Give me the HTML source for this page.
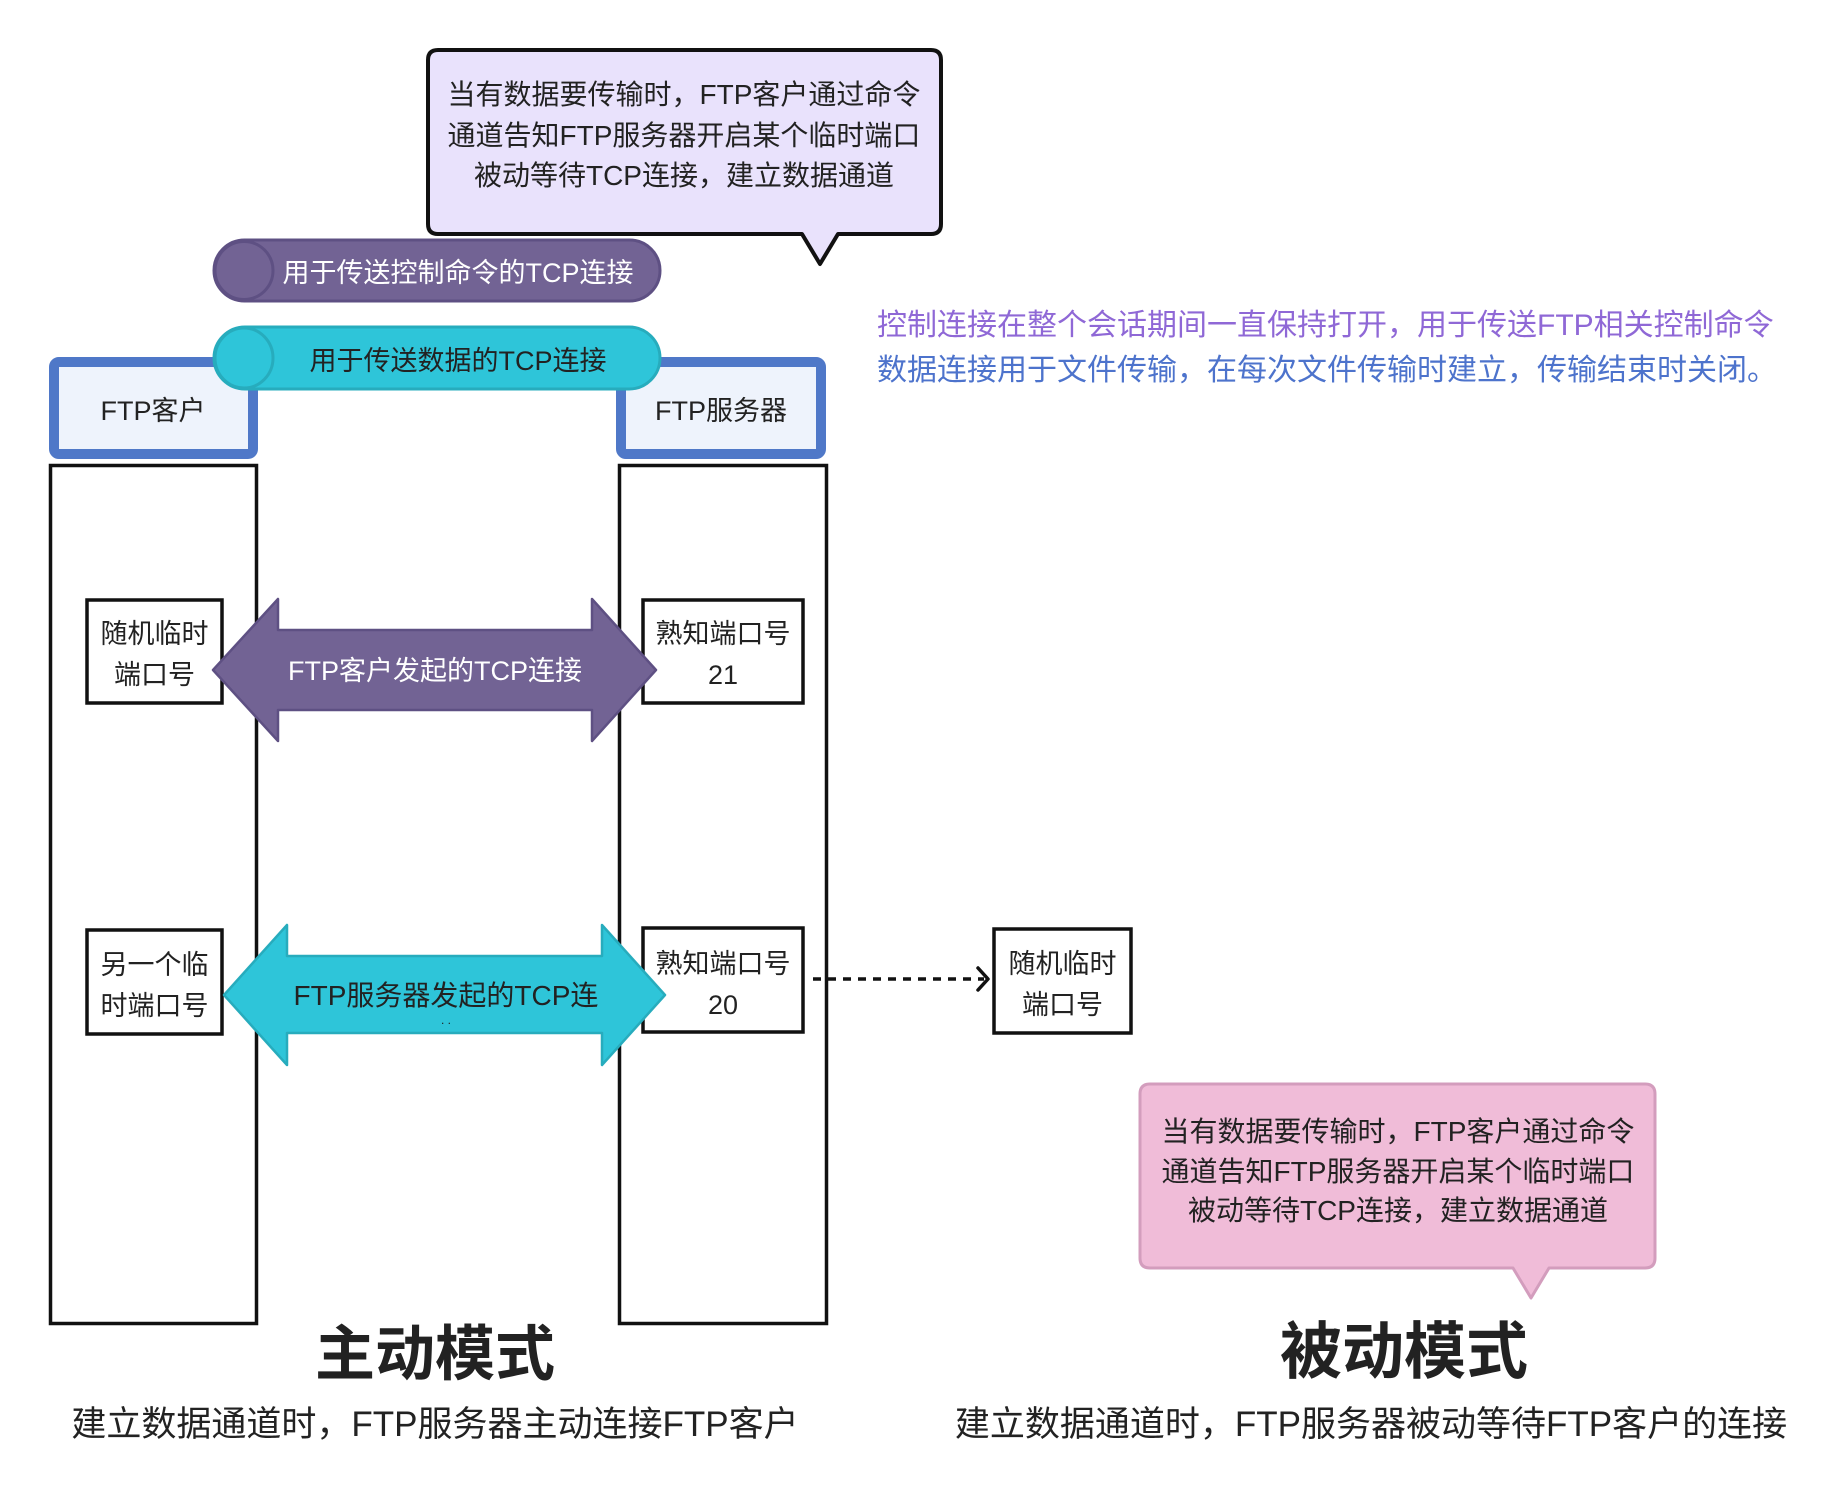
<!DOCTYPE html>
<html><head><meta charset="utf-8"><style>
html,body{margin:0;padding:0;background:#fff;}
svg{display:block;}
text{font-family:"Liberation Sans","Noto Sans CJK SC",sans-serif;}
</style></head><body>
<svg width="1828" height="1492" viewBox="0 0 1828 1492" xmlns="http://www.w3.org/2000/svg">
<rect width="1828" height="1492" fill="#fff"/>

<!-- top callout -->
<path d="M438,50 H931 Q941,50 941,60 V224 Q941,234 931,234 H838 L820,264 L802,234 H438 Q428,234 428,224 V60 Q428,50 438,50 Z" fill="#e9e2fc" stroke="#111" stroke-width="4" stroke-linejoin="round"/>
<g font-size="28" fill="#222" text-anchor="middle">
<text x="684" y="104">当有数据要传输时，FTP客户通过命令</text>
<text x="684" y="145">通道告知FTP服务器开启某个临时端口</text>
<text x="684" y="185">被动等待TCP连接，建立数据通道</text>
</g>

<!-- right explanation -->
<text x="877" y="335" font-size="30" fill="#8f68d6">控制连接在整个会话期间一直保持打开，用于传送FTP相关控制命令</text>
<text x="877" y="380" font-size="30" fill="#4d73cc">数据连接用于文件传输，在每次文件传输时建立，传输结束时关闭。</text>

<!-- purple pill -->
<rect x="214" y="240" width="446" height="61" rx="30.5" fill="#726394" stroke="#5e5083" stroke-width="3"/>
<ellipse cx="244" cy="270.5" rx="29" ry="29" fill="#726394" stroke="#5e5083" stroke-width="3"/>
<text x="458" y="282" font-size="27" fill="#fff" text-anchor="middle">用于传送控制命令的TCP连接</text>

<!-- headers -->
<rect x="54" y="362" width="199" height="92" rx="5" fill="#eef3fc" stroke="#4f78c8" stroke-width="10"/>
<text x="153" y="420" font-size="27" fill="#222" text-anchor="middle">FTP客户</text>
<rect x="621" y="362" width="200" height="92" rx="5" fill="#eef3fc" stroke="#4f78c8" stroke-width="10"/>
<text x="721" y="420" font-size="27" fill="#222" text-anchor="middle">FTP服务器</text>

<!-- cyan pill -->
<rect x="214" y="327" width="446" height="62" rx="31" fill="#2ec5d9" stroke="#27acbd" stroke-width="3"/>
<ellipse cx="244" cy="358" rx="29" ry="30" fill="#2ec5d9" stroke="#27acbd" stroke-width="3"/>
<text x="458" y="370" font-size="27" fill="#222" text-anchor="middle">用于传送数据的TCP连接</text>

<!-- lifelines -->
<rect x="50.5" y="465.5" width="206" height="858" fill="none" stroke="#111" stroke-width="3.5"/>
<rect x="619.5" y="465.5" width="207" height="858" fill="none" stroke="#111" stroke-width="3.5"/>

<!-- port boxes -->
<rect x="87" y="600" width="135" height="103" fill="#fff" stroke="#111" stroke-width="3.5"/>
<text x="154.5" y="643" font-size="27" fill="#222" text-anchor="middle">随机临时</text>
<text x="154.5" y="684" font-size="27" fill="#222" text-anchor="middle">端口号</text>
<rect x="643" y="600" width="160" height="103" fill="#fff" stroke="#111" stroke-width="3.5"/>
<text x="723" y="643" font-size="27" fill="#222" text-anchor="middle">熟知端口号</text>
<text x="723" y="684" font-size="27" fill="#222" text-anchor="middle">21</text>

<rect x="87" y="930" width="135" height="104" fill="#fff" stroke="#111" stroke-width="3.5"/>
<text x="154.5" y="974" font-size="27" fill="#222" text-anchor="middle">另一个临</text>
<text x="154.5" y="1015" font-size="27" fill="#222" text-anchor="middle">时端口号</text>
<rect x="643" y="928" width="160" height="104" fill="#fff" stroke="#111" stroke-width="3.5"/>
<text x="723" y="973" font-size="27" fill="#222" text-anchor="middle">熟知端口号</text>
<text x="723" y="1014" font-size="27" fill="#222" text-anchor="middle">20</text>

<rect x="994" y="929" width="137" height="104" fill="#fff" stroke="#111" stroke-width="3.5"/>
<text x="1062.5" y="973" font-size="27" fill="#222" text-anchor="middle">随机临时</text>
<text x="1062.5" y="1014" font-size="27" fill="#222" text-anchor="middle">端口号</text>

<!-- purple double arrow -->
<polygon points="213,670 278,599 278,630 592,630 592,599 656,670 592,741 592,710 278,710 278,741" fill="#726394" stroke="#5e5083" stroke-width="2.5" stroke-linejoin="round"/>
<text x="435" y="680" font-size="27" fill="#fff" text-anchor="middle">FTP客户发起的TCP连接</text>

<!-- cyan double arrow -->
<polygon points="224,995 287,925 287,956 602,956 602,925 665,995 602,1065 602,1033 287,1033 287,1065" fill="#2ec5d9" stroke="#27acbd" stroke-width="2.5" stroke-linejoin="round"/>
<text x="446" y="1005" font-size="28" fill="#222" text-anchor="middle">FTP服务器发起的TCP连</text>
<text x="446" y="1024" font-size="12" fill="#222" text-anchor="middle">. .</text>

<!-- dotted connector -->
<line x1="813" y1="979" x2="984" y2="979" stroke="#111" stroke-width="3.5" stroke-dasharray="8,7"/>
<polyline points="978,968 988,979 978,990" fill="none" stroke="#111" stroke-width="3.5" stroke-linecap="round" stroke-linejoin="round"/>

<!-- pink callout -->
<path d="M1150,1084 H1645 Q1655,1084 1655,1094 V1258 Q1655,1268 1645,1268 H1549 L1531,1298 L1513,1268 H1150 Q1140,1268 1140,1258 V1094 Q1140,1084 1150,1084 Z" fill="#f0bcd8" stroke="#d39dbd" stroke-width="3" stroke-linejoin="round"/>
<g font-size="28" fill="#222" text-anchor="middle">
<text x="1398" y="1141">当有数据要传输时，FTP客户通过命令</text>
<text x="1398" y="1181">通道告知FTP服务器开启某个临时端口</text>
<text x="1398" y="1220">被动等待TCP连接，建立数据通道</text>
</g>

<!-- titles -->
<text x="435" y="1375" font-size="60" font-weight="bold" fill="#222" text-anchor="middle">主动模式</text>
<text x="435" y="1436" font-size="35" fill="#222" text-anchor="middle">建立数据通道时，FTP服务器主动连接FTP客户</text>
<text x="1404" y="1373" font-size="62" font-weight="bold" fill="#222" text-anchor="middle">被动模式</text>
<text x="1371" y="1436" font-size="35" fill="#222" text-anchor="middle">建立数据通道时，FTP服务器被动等待FTP客户的连接</text>
</svg>
</body></html>
